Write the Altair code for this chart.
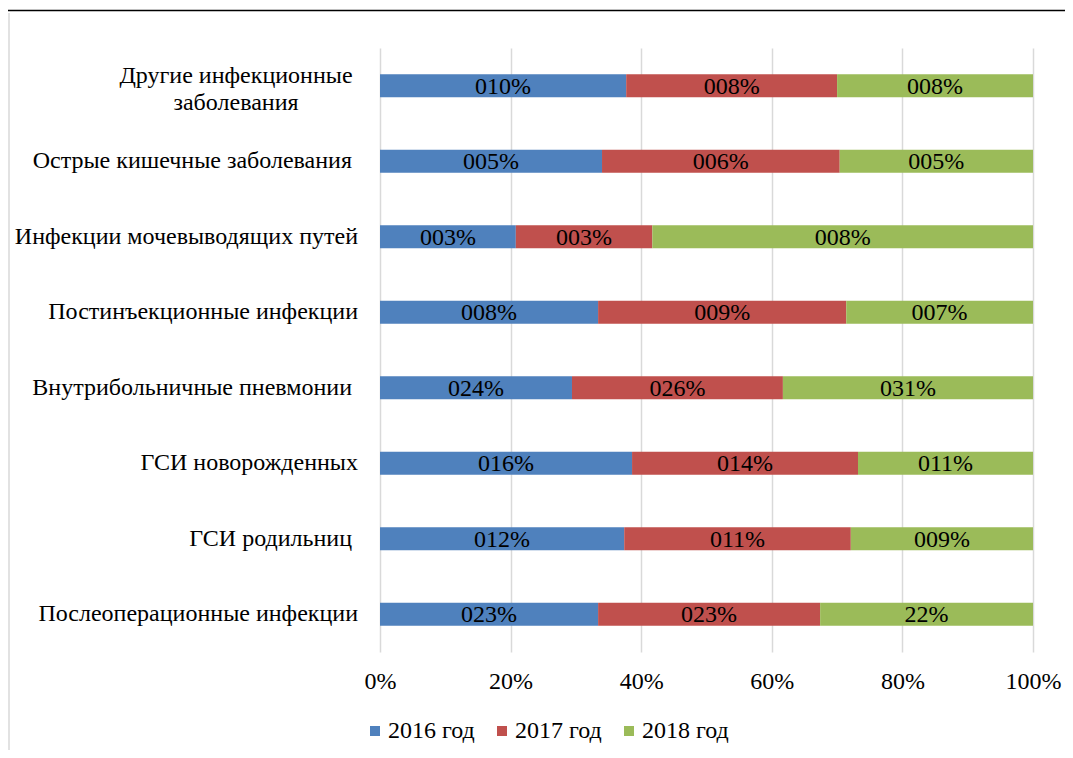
import altair as alt
import pandas as pd

categories = [
    "Другие инфекционные заболевания",
    "Острые кишечные заболевания",
    "Инфекции мочевыводящих путей",
    "Постинъекционные инфекции",
    "Внутрибольничные пневмонии",
    "ГСИ новорожденных",
    "ГСИ родильниц",
    "Послеоперационные инфекции",
]
axis_labels = [
    "Другие инфекционные \nзаболевания",
    "Острые кишечные заболевания ",
    "Инфекции мочевыводящих путей",
    "Постинъекционные инфекции",
    "Внутрибольничные пневмонии ",
    "ГСИ новорожденных",
    "ГСИ родильниц ",
    "Послеоперационные инфекции",
]
years = ["2016 год", "2017 год", "2018 год"]
share_2016 = [37.7, 34.0, 20.8, 33.4, 29.4, 38.6, 37.4, 33.4]
share_2017 = [32.3, 36.4, 20.9, 38.0, 32.3, 34.6, 34.7, 34.0]
share_2018 = [30.0, 29.6, 58.3, 28.6, 38.3, 26.8, 27.9, 32.6]
labels_2016 = ["010%", "005%", "003%", "008%", "024%", "016%", "012%", "023%"]
labels_2017 = ["008%", "006%", "003%", "009%", "026%", "014%", "011%", "023%"]
labels_2018 = ["008%", "005%", "008%", "007%", "031%", "011%", "009%", "22%"]
colors = ["#4F81BD", "#C0504D", "#9BBB59"]

rows = []
for yi, (yr, sh, lb) in enumerate(zip(years, [share_2016, share_2017, share_2018],
                                       [labels_2016, labels_2017, labels_2018])):
    for c, v, l in zip(categories, sh, lb):
        rows.append({"cat": c, "year": yr, "yi": yi, "value": v, "label": l})
df = pd.DataFrame(rows)
lab_df = pd.DataFrame({
    "cat": categories,
    "txt": [t.strip() if "\n" not in t else t for t in axis_labels],
    "multi": ["\n" in t for t in axis_labels],
    "trail": [t.endswith(" ") for t in axis_labels],
})

FONT = "'Liberation Serif', 'Times New Roman', serif"
FS = 24
yenc = alt.Y("cat:N", sort=categories, axis=None,
             scale=alt.Scale(paddingInner=0.0, paddingOuter=0.0))

base = alt.Chart(df).transform_stack(
    stack="value", groupby=["cat"], as_=["x0", "x1"], offset="normalize",
    sort=[alt.SortField("yi", order="ascending")]
)

bars = base.mark_bar(size=23).encode(
    y=yenc,
    x=alt.X("x0:Q", scale=alt.Scale(domain=[0, 1]),
            axis=alt.Axis(values=[0, 0.2, 0.4, 0.6, 0.8, 1.0], format="%",
                          grid=True, gridColor="#D9D9D9", gridWidth=1.5,
                          domain=False, ticks=False, labelFont=FONT,
                          labelFontSize=FS, labelColor="#000000", labelFlush=False,
                          labelPadding=17, title=None)),
    x2="x1:Q",
    color=alt.Color("year:N", sort=years,
                    scale=alt.Scale(domain=years, range=colors),
                    legend=alt.Legend(title=None, orient="none", direction="horizontal",
                                      legendX=-17, legendY=671, symbolType="square",
                                      symbolSize=100, symbolStrokeWidth=0,
                                      labelFont=FONT, labelFontSize=FS,
                                      labelColor="#000000", labelOffset=1,
                                      columnPadding=15, labelLimit=0)),
    order=alt.Order("yi:Q"),
)

texts = base.transform_calculate(mid="(datum.x0 + datum.x1) / 2").mark_text(
    font=FONT, fontSize=FS, color="#000000", baseline="middle", dy=1
).encode(
    y=yenc,
    x=alt.X("mid:Q"),
    text="label:N",
)

ylab_plain = alt.Chart(lab_df).transform_filter("!datum.multi && !datum.trail").mark_text(
    font=FONT, fontSize=FS, color="#000000", align="right", baseline="middle",
).encode(y=yenc, x=alt.value(-22), text="txt:N")

ylab_trail = alt.Chart(lab_df).transform_filter("!datum.multi && datum.trail").mark_text(
    font=FONT, fontSize=FS, color="#000000", align="right", baseline="middle",
).encode(y=yenc, x=alt.value(-28), text="txt:N")

ylab_multi = alt.Chart(lab_df).transform_filter("datum.multi").mark_text(
    font=FONT, fontSize=FS, color="#000000", align="center", baseline="middle",
    lineBreak="\n", lineHeight=27, dy=-10,
).encode(y=yenc, x=alt.value(-144), text="txt:N")

one = pd.DataFrame({"a": [0]})
top_line = alt.Chart(one).mark_rule(color="#000000", strokeWidth=1.5).encode(
    x=alt.value(-372), x2=alt.value(690), y=alt.value(-37.5))
left_line = alt.Chart(one).mark_rule(color="#D9D9D9", strokeWidth=1.5).encode(
    x=alt.value(-371), y=alt.value(-35), y2=alt.value(720))

chart = alt.layer(bars, texts, ylab_plain, ylab_trail, ylab_multi, top_line, left_line).properties(
    width=653, height=604,
    autosize=alt.AutoSizeParams(type="none"),
    padding={"left": 372, "top": 40, "right": 32, "bottom": 98},
).configure_view(stroke=None)

chart.save("out.html", embed_options={"renderer": "svg", "actions": False})
